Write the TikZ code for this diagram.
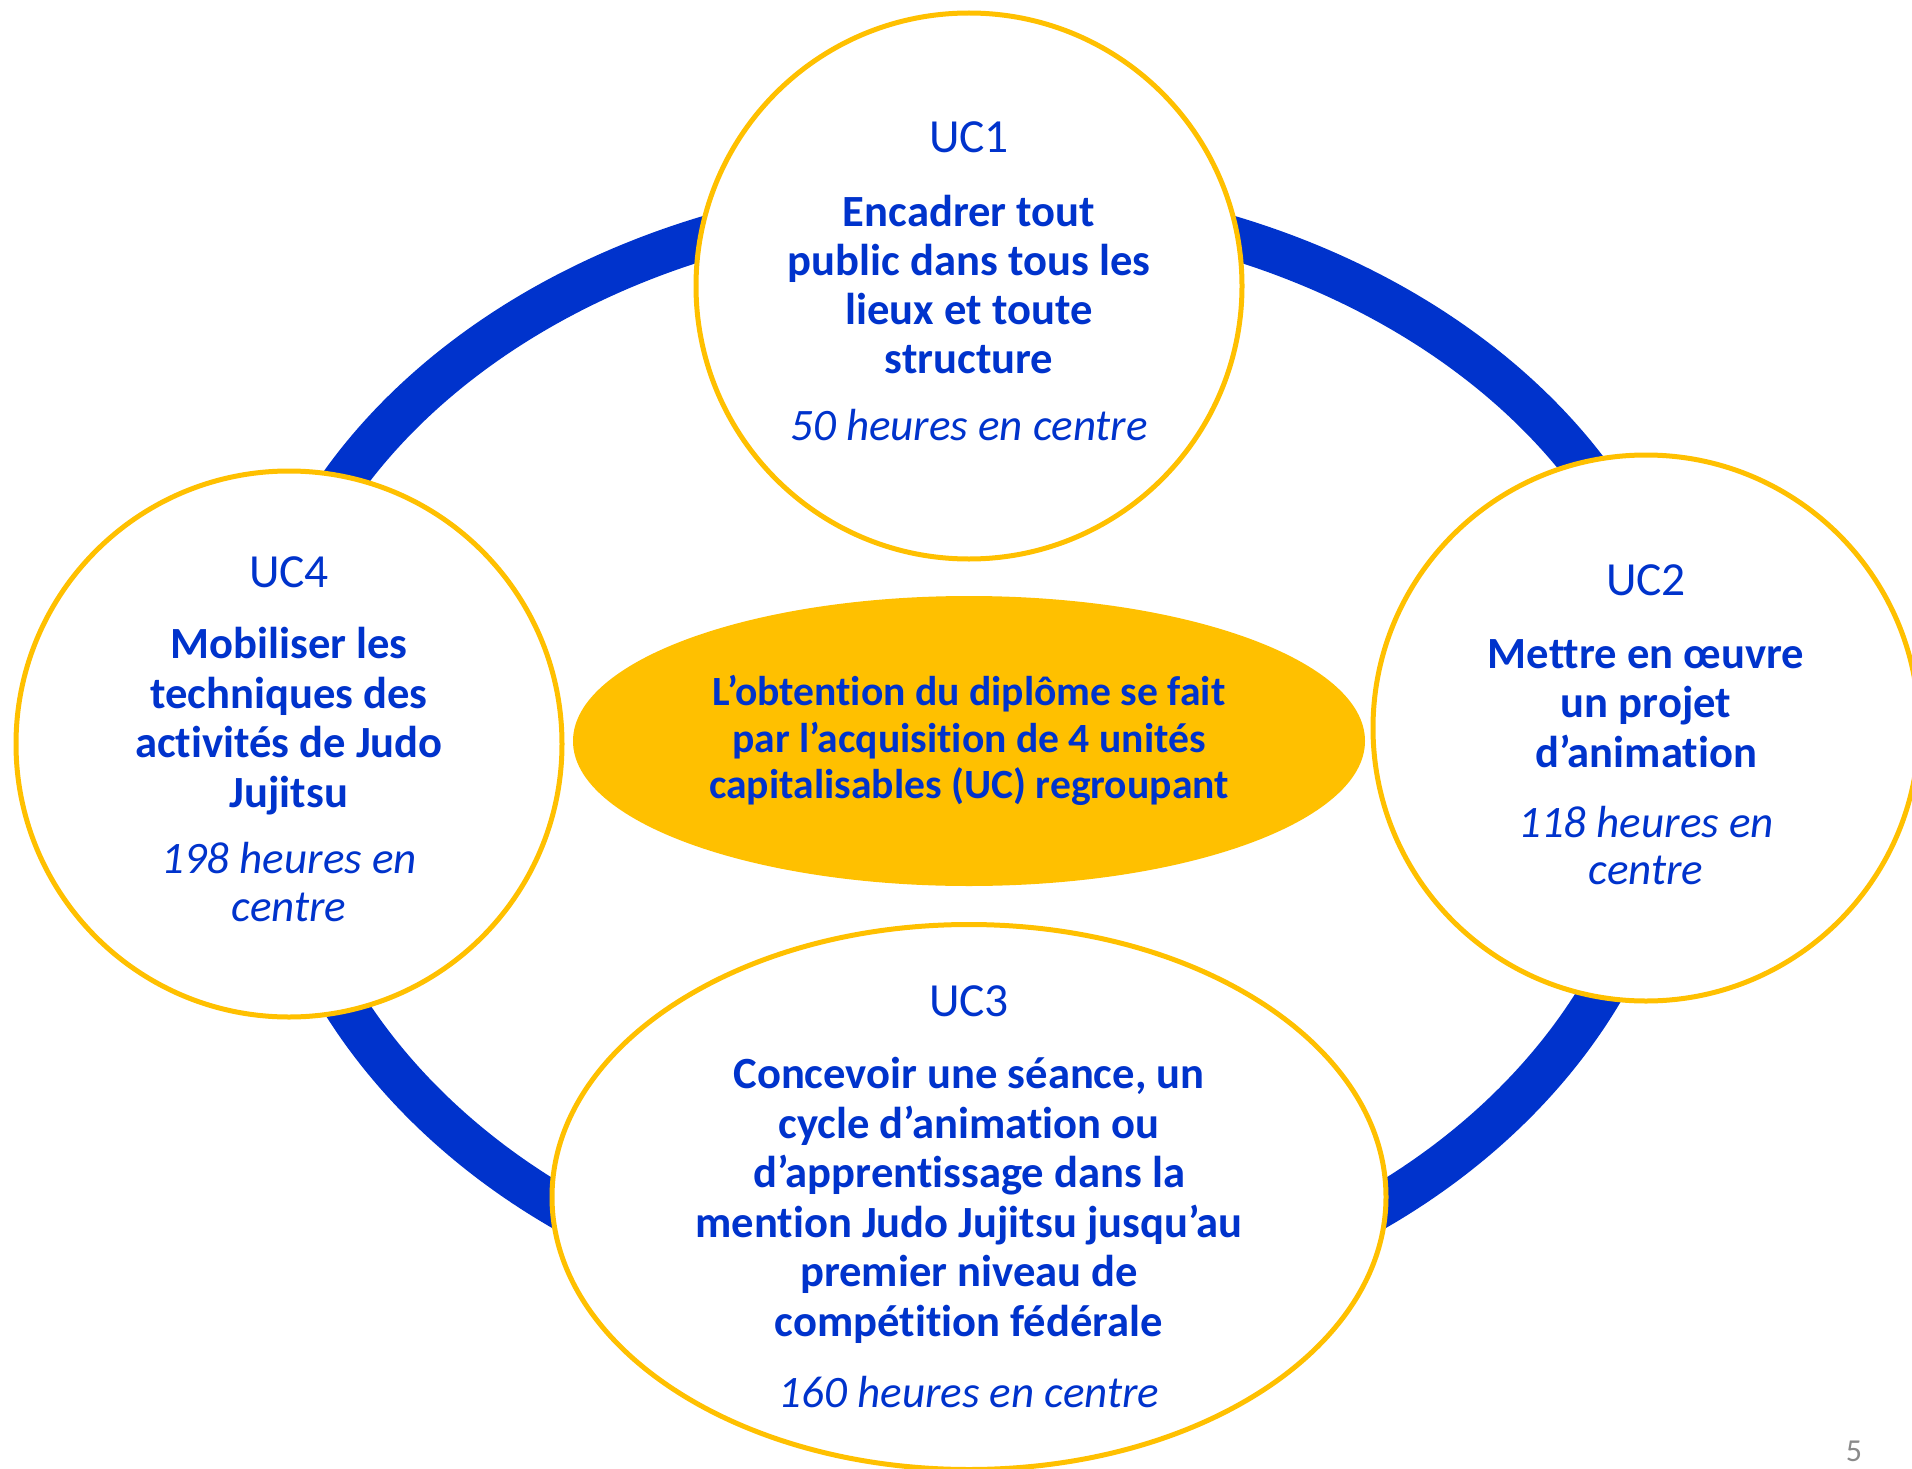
\documentclass[tikz,border=0pt]{standalone}
\usepackage{fontspec}
\setmainfont{Carlito}[Ligatures=NoCommon]
\usetikzlibrary{shapes.geometric}
\definecolor{ucblue}{HTML}{0033CC}
\definecolor{ucyellow}{HTML}{FFC000}
\definecolor{pagegray}{HTML}{8A8A8A}
\tikzset{
  ringline/.style={draw=ucblue, line width=43pt},
  ucdisc/.style={circle, draw=ucyellow, fill=white, line width=5pt, minimum size=546pt, inner sep=0pt},
  ucoval/.style={ellipse, draw=ucyellow, fill=white, line width=5pt, minimum width=834pt, minimum height=545pt, inner sep=0pt},
  centeroval/.style={ellipse, fill=ucyellow, minimum width=792pt, minimum height=290pt, inner sep=0pt},
  uclabel/.style={anchor=base, inner sep=0pt, text=ucblue, font=\fontsize{47.5}{56}\selectfont},
  ucbold/.style={anchor=base, inner sep=0pt, text=ucblue, font=\fontsize{44.6}{49}\selectfont\bfseries},
  ucital/.style={anchor=base, inner sep=0pt, text=ucblue, font=\fontsize{45}{49}\selectfont\itshape},
  centertext/.style={anchor=base, inner sep=0pt, text=ucblue, font=\fontsize{41.6}{47}\selectfont\bfseries},
  pagenum/.style={anchor=base, inner sep=0pt, text=pagegray, font=\fontsize{32}{36}\selectfont}
}
\begin{document}
\begin{tikzpicture}[x=1pt,y=-1pt]
\useasboundingbox (0,0) rectangle (1912,1469);
% ring: upper half and lower half (their joins lie under UC4 and UC2)
\draw[ringline] (1683,743) arc[start angle=0, end angle=180, x radius=714pt, y radius=543.5pt];
\draw[ringline] (266.5,743) arc[start angle=180, end angle=360, x radius=702.5pt, y radius=571.5pt];
% discs
\node[ucdisc] (c1) at (969,286) {};
\node[ucdisc] (c4) at (289,744) {};
\node[ucdisc] (c2) at (1646,728) {};
\node[ucoval] (c3) at (969,1197) {};
\node[centeroval] (cc) at (969,741) {};
% UC1
\node[uclabel] (t1a) at (969,153) {UC1};
\node[ucbold] (t1b) at (969,226) {Encadrer tout};
\node[ucbold] (t1c) at (969,275) {public dans tous les};
\node[ucbold] (t1d) at (969,324) {lieux et toute};
\node[ucbold] (t1e) at (969,373) {structure};
\node[ucital] (t1f) at (969,440) {50 heures en centre};
% UC4
\node[uclabel] (t4a) at (289,587) {UC4};
\node[ucbold] (t4b) at (289,658) {Mobiliser les};
\node[ucbold] (t4c) at (289,708) {techniques des};
\node[ucbold] (t4d) at (289,757) {activités de Judo};
\node[ucbold] (t4e) at (289,807) {Jujitsu};
\node[ucital] (t4f) at (289,873) {198 heures en};
\node[ucital] (t4g) at (289,921) {centre};
% UC2
\node[uclabel] (t2a) at (1646,595) {UC2};
\node[ucbold] (t2b) at (1646,668) {Mettre en œuvre};
\node[ucbold] (t2c) at (1646,717) {un projet};
\node[ucbold] (t2d) at (1646,767) {d’animation};
\node[ucital] (t2e) at (1646,837) {118 heures en};
\node[ucital] (t2f) at (1646,884) {centre};
% UC3
\node[uclabel] (t3a) at (969,1016) {UC3};
\node[ucbold] (t3b) at (969,1088) {Concevoir une séance, un};
\node[ucbold] (t3c) at (969,1138) {cycle d’animation ou};
\node[ucbold] (t3d) at (969,1187) {d’apprentissage dans la};
\node[ucbold] (t3e) at (969,1237) {mention Judo Jujitsu jusqu’au};
\node[ucbold] (t3f) at (969,1286) {premier niveau de};
\node[ucbold] (t3g) at (969,1336) {compétition fédérale};
\node[ucital] (t3h) at (969,1407) {160 heures en centre};
% centre
\node[centertext] (m1) at (969,705) {L’obtention du diplôme se fait};
\node[centertext] (m2) at (969,752) {par l’acquisition de 4 unités};
\node[centertext] (m3) at (969,798) {capitalisables (UC) regroupant};
% page number
\node[pagenum] (pg) at (1854,1461) {5};
\end{tikzpicture}
\end{document}
